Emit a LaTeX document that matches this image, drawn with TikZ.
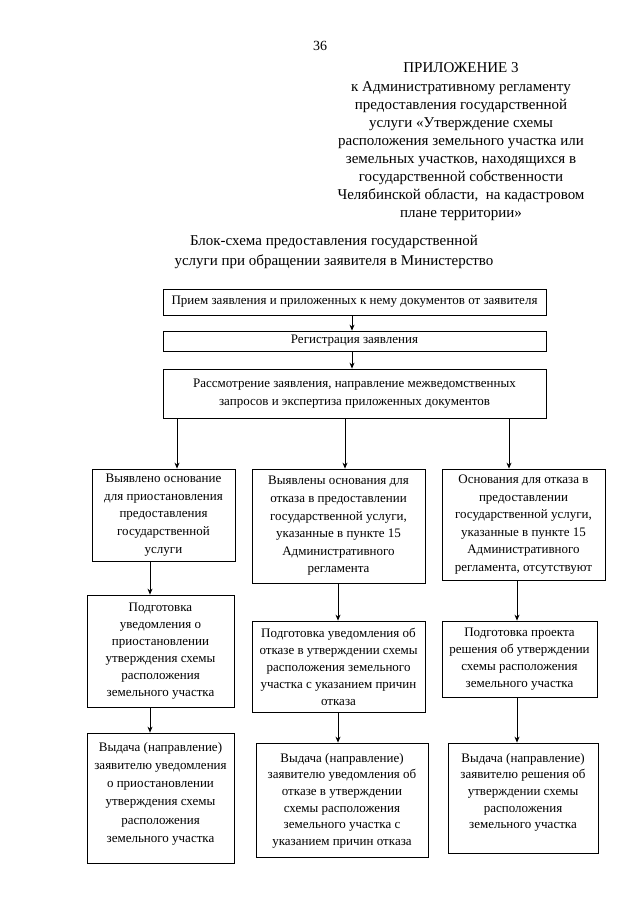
\documentclass[tikz,border=0pt]{standalone}
\usepackage{fontspec}
\setmainfont{Liberation Serif}
\usetikzlibrary{arrows.meta}
\newcommand{\topbx}[4]{\parbox[c][#1][t]{#2}{\centering\vspace*{#3}#4\par}}
\tikzset{
  box/.style={draw, line width=0.8pt, align=center, inner sep=2pt, font=\fontsize{13}{17.6}\selectfont},
  tbox/.style={draw, line width=0.8pt, inner sep=0pt},
  arr/.style={line width=0.8pt, -{Stealth[length=6pt,width=5pt]}},
  hdr/.style={align=center, inner sep=0pt, font=\fontsize{15}{18.1}\selectfont},
}
\begin{document}
\begin{tikzpicture}[x=1pt,y=-1pt]
\useasboundingbox[fill=white] (0,0) rectangle (640,905);
\node[font=\fontsize{14}{16}\selectfont, inner sep=0pt] (page) at (320,46) {36};
\node[hdr] (app) at (461,142) {ПРИЛОЖЕНИЕ 3\\к Административному регламенту\\предоставления государственной\\услуги «Утверждение схемы\\расположения земельного участка или\\земельных участков, находящихся в\\государственной собственности\\Челябинской области,\ \ на кадастровом\\плане территории»};
\node[hdr, font=\fontsize{15}{19.5}\selectfont] (title) at (334,252) {Блок-схема предоставления государственной\\услуги при обращении заявителя в Министерство};

\node[box, minimum width=383pt, minimum height=26pt] (A) at (354.5,302) {Прием заявления и приложенных к нему документов от заявителя};
\node[box, minimum width=383pt, minimum height=20pt] (B) at (354.5,341) {Регистрация заявления};
\node[box, minimum width=383pt, minimum height=49pt] (C) at (354.5,393.5) {Рассмотрение заявления, направление межведомственных\\запросов и экспертиза приложенных документов};

\node[box, minimum width=143pt, minimum height=92pt] (D1) at (163.5,515) {Выявлено основание\\для приостановления\\предоставления\\государственной\\услуги};
\node[box, minimum width=173pt, minimum height=114pt] (D2) at (338.5,526) {Выявлены основания для\\отказа в предоставлении\\государственной услуги,\\указанные в пункте 15\\Административного\\регламента};
\node[box, minimum width=163pt, minimum height=111pt] (D3) at (523.5,524.5) {Основания для отказа в\\предоставлении\\государственной услуги,\\указанные в пункте 15\\Административного\\регламента, отсутствуют};

\node[box, minimum width=147pt, minimum height=112pt, font=\fontsize{13}{16.9}\selectfont] (E1) at (160.5,651) {Подготовка\\уведомления о\\приостановлении\\утверждения схемы\\расположения\\земельного участка};
\node[box, minimum width=173pt, minimum height=91pt, font=\fontsize{13}{17}\selectfont] (E2) at (338.5,666.5) {Подготовка уведомления об\\отказе в утверждении схемы\\расположения земельного\\участка с указанием причин\\отказа};
\node[box, minimum width=155pt, minimum height=76pt, font=\fontsize{13}{17}\selectfont] (E3) at (519.5,659) {Подготовка проекта\\решения об утверждении\\схемы расположения\\земельного участка};

\node[tbox, font=\fontsize{13}{18.3}\selectfont] (F1) at (160.5,798) {\topbx{130pt}{147pt}{9pt}{Выдача (направление)\\заявителю уведомления\\о приостановлении\\утверждения схемы\\расположения\\земельного участка}};
\node[tbox, font=\fontsize{13}{16.7}\selectfont] (F2) at (342,800) {\topbx{114pt}{172pt}{10pt}{Выдача (направление)\\заявителю уведомления об\\отказе в утверждении\\схемы расположения\\земельного участка с\\указанием причин отказа}};
\node[tbox, font=\fontsize{13}{16.7}\selectfont] (F3) at (523,798) {\topbx{110pt}{150pt}{10pt}{Выдача (направление)\\заявителю решения об\\утверждении схемы\\расположения\\земельного участка}};

\draw[arr] ([xshift=-2.5pt]A.south) -- ([xshift=-2.5pt]B.north);
\draw[arr] ([xshift=-2.5pt]B.south) -- ([xshift=-2.5pt]C.north);
\draw[arr] ([xshift=-177.5pt]C.south) -- ([xshift=13.5pt]D1.north);
\draw[arr] ([xshift=-9.5pt]C.south) -- ([xshift=6.5pt]D2.north);
\draw[arr] ([xshift=154.5pt]C.south) -- ([xshift=-14.5pt]D3.north);
\draw[arr] ([xshift=-13.5pt]D1.south) -- ([xshift=-10.5pt]E1.north);
\draw[arr] ([xshift=-0.5pt]D2.south) -- ([xshift=-0.5pt]E2.north);
\draw[arr] ([xshift=-6.5pt]D3.south) -- ([xshift=-2.5pt]E3.north);
\draw[arr] ([xshift=-10.5pt]E1.south) -- ([xshift=-10.5pt]F1.north);
\draw[arr] ([xshift=-0.5pt]E2.south) -- ([xshift=-4pt]F2.north);
\draw[arr] ([xshift=-2.5pt]E3.south) -- ([xshift=-6pt]F3.north);
\end{tikzpicture}
\end{document}
